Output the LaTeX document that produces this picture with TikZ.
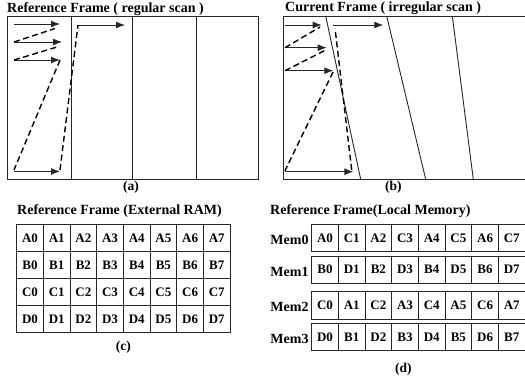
\documentclass[tikz,border=0pt]{standalone}
\usepackage{fontspec}
\setmainfont{Liberation Serif}
\usetikzlibrary{arrows.meta}

\tikzset{
  framebox/.style={draw=black!85, line width=0.9bp},
  scanarrow/.style={draw=black!85, line width=0.9bp, -{Latex[length=9bp,width=7bp]}},
  jump/.style={draw=black, line width=1.4bp, dash pattern=on 6bp off 3.5bp},
  title/.style={font=\fontsize{14bp}{16bp}\selectfont\bfseries, inner sep=0pt, anchor=west},
  caption/.style={font=\fontsize{13.5bp}{15bp}\selectfont\bfseries, inner sep=0pt},
  cell/.style={draw=black!85, line width=0.9bp, minimum width=26.67bp, minimum height=27.2bp,
    inner sep=0pt, font=\fontsize{13bp}{15bp}\selectfont\bfseries},
  memlabel/.style={font=\fontsize{14bp}{16bp}\selectfont\bfseries, inner sep=0pt}
}

\begin{document}
\begin{tikzpicture}[x=1bp,y=-1bp]
\useasboundingbox (0,0) rectangle (525,377);

% ---------- (a) reference frame, regular scan ----------
\node[title] (ta) at (7,9) {Reference Frame ( regular scan )};
\draw[framebox] (7.3,16.7) rectangle (258.3,179.3);
\foreach \x in {71.3,132.3,196.7}
  \draw[framebox] (\x,16.7) -- (\x,179.3);
\coordinate (a1s) at (14,24);   \coordinate (a1e) at (60,24);
\coordinate (a2s) at (14,42);   \coordinate (a2e) at (62,42);
\coordinate (a3s) at (14,60);   \coordinate (a3e) at (60,60);
\coordinate (a4s) at (14,171.5);\coordinate (a4e) at (60,171.5);
\coordinate (a5s) at (78,25);   \coordinate (a5e) at (125,25);
\foreach \i in {1,...,5} \draw[scanarrow] (a\i s) -- (a\i e);
\draw[jump] (a2s) -- (55,28.5);
\draw[jump] (a3s) -- (57,47);
\draw[jump] (a3e) -- (14,170);
\draw[jump] (60,170) -- (a5s);
\node[caption] (ca) at (131,187.5) {(a)};

% ---------- (b) current frame, irregular scan ----------
\node[title] (tb) at (285,8.5) {Current Frame ( irregular scan )};
\draw[framebox] (526,16) -- (283.3,16) -- (283.3,179.3) -- (526,179.3);
\draw[framebox] (325.7,16) -- (360.7,179.3);
\draw[framebox] (386.7,16) -- (425.7,179.3);
\draw[framebox] (452.3,16) -- (473.3,179.3);
\coordinate (b1s) at (285,25);    \coordinate (b1e) at (321.7,25);
\coordinate (b2s) at (285,47.7);  \coordinate (b2e) at (326.7,47.7);
\coordinate (b3s) at (285,70.7);  \coordinate (b3e) at (333.3,70.7);
\coordinate (b4s) at (285,171.7); \coordinate (b4e) at (353.3,171.7);
\coordinate (b5s) at (333.3,25);  \coordinate (b5e) at (383.3,25);
\foreach \i in {1,...,5} \draw[scanarrow] (b\i s) -- (b\i e);
\draw[jump] (b2s) -- (320,27);
\draw[jump] (b3s) -- (326.7,49.5);
\draw[jump] (333,72) -- (285,170.7);
\draw[jump] (351.7,170) -- (335,28.3);
\node[caption] (cb) at (393.3,187.5) {(b)};

% ---------- (c) external RAM layout ----------
\node[title] (tc) at (17,211) {Reference Frame (External RAM)};
\foreach \r/\letter in {0/A,1/B,2/C,3/D}
  \foreach \c in {0,...,7}
    \node[cell] (ext-\letter\c) at ({16.7+26.67*(\c+0.5)},{224.3+27.1*(\r+0.5)}) {\letter\c};
\node[caption] (cc) at (123.3,347.5) {(c)};

% ---------- (d) local memory banks ----------
\node[title] (td) at (270,211) {Reference Frame(Local Memory)};
\foreach \m/\top/\row in {0/224.3/{A0,C1,A2,C3,A4,C5,A6,C7},
                          1/256/{B0,D1,B2,D3,B4,D5,B6,D7},
                          2/291.7/{C0,A1,C2,A3,C4,A5,C6,A7},
                          3/323.3/{D0,B1,D2,B3,D4,B5,D6,B7}} {
  \node[memlabel] (mem\m) at (289.5,\top+15.5) {Mem\m};
  \foreach \txt [count=\k from 0] in \row
    \node[cell, minimum height=27.4bp] (mem\m-\k) at ({311.7+26.67*(\k+0.5)},{\top+13.7}) {\txt};
}
\node[caption] (cd) at (403.3,369.5) {(d)};
\end{tikzpicture}
\end{document}
